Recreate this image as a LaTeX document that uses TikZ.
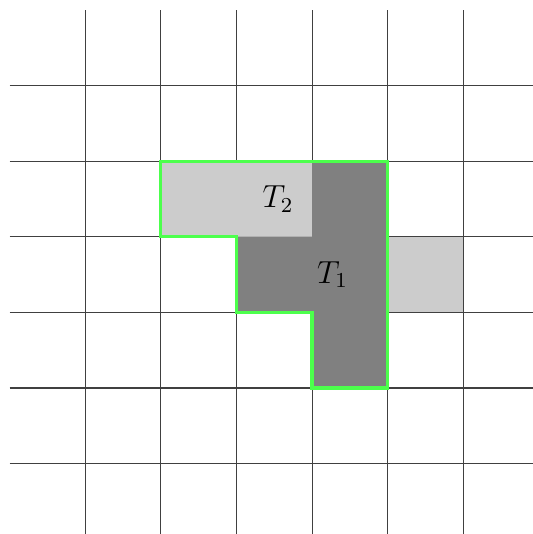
\documentclass[tikz,border=0pt]{standalone}
\usepackage{amsmath, amssymb}
\usepackage{tikz}
\usetikzlibrary{positioning,calc}

\begin{document}
\begin{tikzpicture}[
    gridline/.style={draw=black!75, line width=0.4pt},
    lighttile/.style={fill=black!20},
    darktile/.style={fill=black!50},
    outline/.style={draw=green!70, very thick, line join=miter},
    tilelabel/.style={font=\large, inner sep=0pt}
]
\useasboundingbox (-0.126,0.07) rectangle (6.91,7.13);

% Grid
\foreach \i in {1,...,6} {
    \draw[gridline] (\i,0) -- (\i,7);
    \draw[gridline] (0,\i) -- (7,\i);
}

% Tiles
\fill[lighttile] (2,4) rectangle (4,5);
\fill[lighttile] (5,3) rectangle (6,4);
\fill[darktile] (4,5) -- (5,5) -- (5,2) -- (4,2) -- (4,3) -- (3,3) -- (3,4) -- (4,4) -- cycle;

% Boundary of the union
\draw[outline] (2,5) -- (5,5) -- (5,2) -- (4,2) -- (4,3) -- (3,3) -- (3,4) -- (2,4) -- cycle;

% Labels
\node[tilelabel] (t2) at (3.55,4.5) {$T_2$};
\node[tilelabel] (t1) at (4.27,3.5) {$T_1$};

\end{tikzpicture}
\end{document}
